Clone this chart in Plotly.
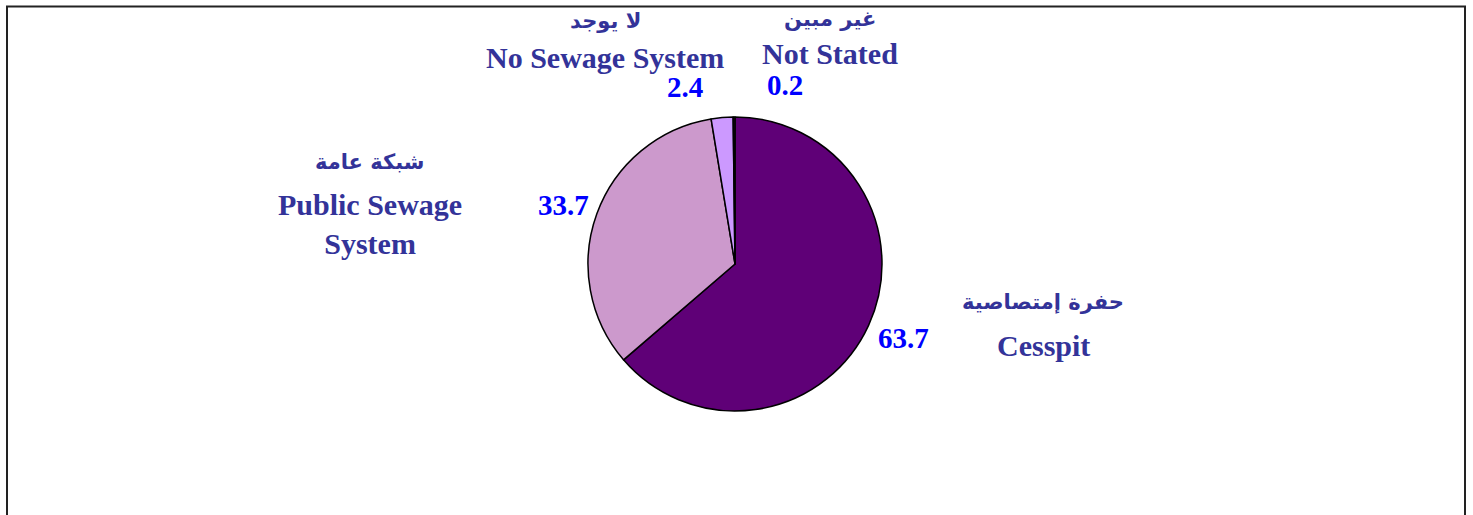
import plotly.graph_objects as go

# Data
labels_en = ["Cesspit", "Public Sewage<br>System", "No Sewage System", "Not Stated"]
labels_ar = ["حفرة إمتصاصية", "شبكة عامة", "لا يوجد", "غير مبين"]
values = [63.7, 33.7, 2.4, 0.2]
colors = ["#5F0077", "#CC99CC", "#CC99FF", "#220022"]

W, H = 1473, 515

def px(x):
    return x / W

def py(y):
    return 1 - y / H

fig = go.Figure()
fig.add_trace(go.Pie(
    values=values,
    labels=[l.replace("<br>", " ") for l in labels_en],
    sort=False,
    direction="clockwise",
    rotation=0,
    textinfo="none",
    hoverinfo="label+value",
    marker=dict(colors=colors, line=dict(color="#000000", width=1.5)),
    domain=dict(x=[px(588), px(882)], y=[py(411), py(117)]),
    showlegend=False,
))

# label positions (pixel centres) for arabic / english / value
pos_ar = [(1043, 302), (370, 162), (605, 21), (830, 19)]
pos_en = [(1043, 345), (370, 224), (605, 57), (830, 54)]
pos_val = [(903, 338), (563, 205), (685, 87), (785, 85)]

serif = "Liberation Serif, Times New Roman, serif"
annotations = []
for i in range(len(values)):
    annotations.append(dict(
        x=px(pos_ar[i][0]), y=py(pos_ar[i][1]), xref="paper", yref="paper",
        text=f"<b>{labels_ar[i]}</b>", showarrow=False,
        font=dict(family="DejaVu Sans", size=21, color="#333399"),
        xanchor="center", yanchor="middle",
    ))
    annotations.append(dict(
        x=px(pos_en[i][0]), y=py(pos_en[i][1]), xref="paper", yref="paper",
        text=f"<b>{labels_en[i]}</b>", showarrow=False,
        font=dict(family=serif, size=30, color="#333399"),
        xanchor="center", yanchor="middle",
    ))
    annotations.append(dict(
        x=px(pos_val[i][0]), y=py(pos_val[i][1]), xref="paper", yref="paper",
        text=f"<b>{values[i]}</b>", showarrow=False,
        font=dict(family=serif, size=29, color="#0000FF"),
        xanchor="center", yanchor="middle",
    ))

fig.update_layout(
    width=W, height=H,
    margin=dict(l=0, r=0, t=0, b=0),
    paper_bgcolor="white",
    plot_bgcolor="white",
    annotations=annotations,
    shapes=[dict(
        type="rect", xref="paper", yref="paper",
        x0=px(7), x1=px(1465), y0=-0.1, y1=py(6.5),
        line=dict(color="#222222", width=2),
    )],
)

fig.write_html("out.html", config={"displayModeBar": False},
               post_script="document.body.style.margin='0';")
